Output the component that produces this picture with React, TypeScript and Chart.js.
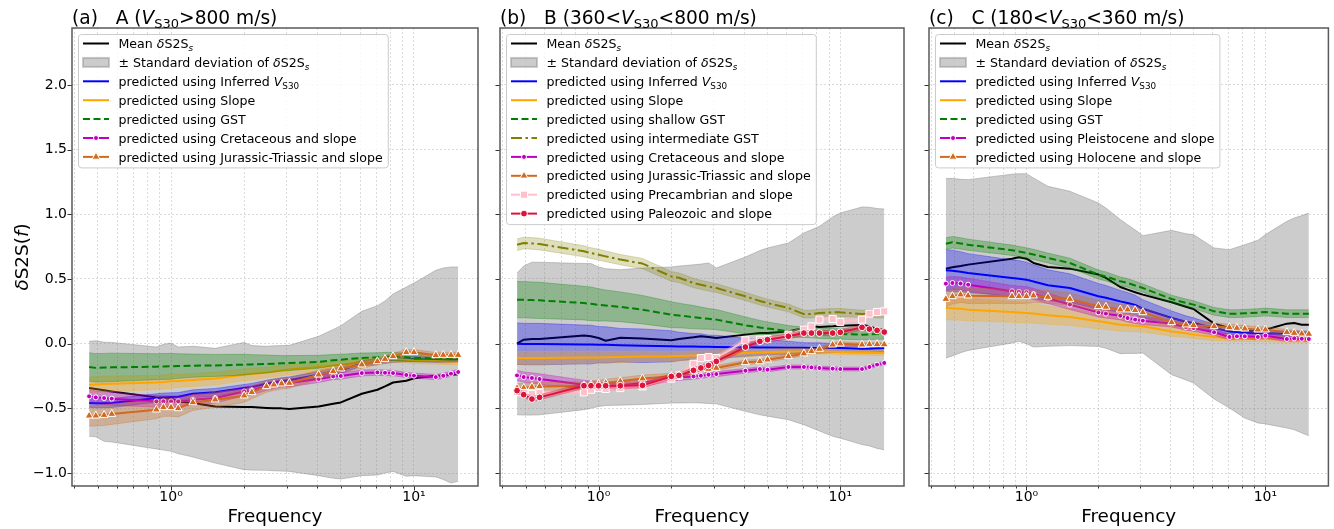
import React, { useEffect, useRef } from "react";
import { Chart, registerables } from "chart.js";

Chart.register(...registerables);

// ---------------- axes ----------------
const FREQ = [0.46, 0.49, 0.53, 0.57, 0.87, 0.93, 1.0, 1.07, 1.23, 1.52, 2.0, 2.15, 2.47, 2.65, 2.85, 3.07, 4.05, 4.65, 5.0, 6.1, 7.07, 7.6, 8.2, 9.3, 10.0, 12.3, 13.2, 14.2, 15.2];
const X_TICKS = [0.4, 0.5, 0.6, 0.7, 0.8, 0.9, 1, 2, 3, 4, 5, 6, 7, 8, 9, 10];
const X_LABELS: Record<string, string> = { "1": "10\u2070", "10": "10\u00b9" };
const Y_TICKS = [-1, -0.5, 0, 0.5, 1, 1.5, 2];
const X_RANGE = [0.391, 18.35];
const Y_RANGE = [-1.1, 2.44];

// ---------------- panel A ----------------
const A_MEAN = [-0.343, -0.35, -0.36, -0.369, -0.415, -0.418, -0.425, -0.446, -0.459, -0.485, -0.49, -0.49, -0.497, -0.5, -0.5, -0.505, -0.485, -0.465, -0.454, -0.387, -0.356, -0.33, -0.3, -0.286, -0.268, -0.247, -0.245, -0.24, -0.237];
const A_SD_HI = [0.018, 0.023, 0.012, 0.01, -0.026, -0.005, 0.005, -0.026, -0.02, -0.036, 0.01, -0.015, -0.02, -0.016, -0.015, -0.013, 0.057, 0.11, 0.139, 0.25, 0.294, 0.33, 0.384, 0.438, 0.469, 0.567, 0.585, 0.593, 0.593];
const A_SD_LO = [-0.716, -0.72, -0.755, -0.76, -0.814, -0.822, -0.832, -0.85, -0.876, -0.923, -0.974, -0.977, -0.979, -0.982, -0.985, -0.987, -1.02, -1.04, -1.046, -1.02, -1.015, -1.0, -0.987, -1.025, -1.02, -1.03, -1.05, -1.077, -1.064];
const A_VS30 = [-0.459, -0.46, -0.46, -0.458, -0.42, -0.415, -0.412, -0.41, -0.387, -0.376, -0.343, -0.335, -0.31, -0.3, -0.29, -0.283, -0.24, -0.215, -0.206, -0.15, -0.14, -0.132, -0.124, -0.12, -0.119, -0.125, -0.128, -0.126, -0.124];
const A_VS30_SD = [0.035, 0.035, 0.035, 0.035, 0.033, 0.033, 0.032, 0.032, 0.03, 0.03, 0.028, 0.028, 0.027, 0.027, 0.026, 0.026, 0.025, 0.024, 0.024, 0.022, 0.022, 0.021, 0.021, 0.02, 0.02, 0.02, 0.02, 0.02, 0.02];
const A_SLOPE = [-0.317, -0.315, -0.312, -0.31, -0.3, -0.297, -0.29, -0.288, -0.28, -0.27, -0.24, -0.235, -0.222, -0.215, -0.208, -0.2, -0.18, -0.168, -0.162, -0.145, -0.135, -0.128, -0.12, -0.125, -0.13, -0.133, -0.135, -0.137, -0.137];
const A_SLOPE_SD = [0.06, 0.06, 0.06, 0.06, 0.055, 0.055, 0.055, 0.05, 0.05, 0.05, 0.045, 0.045, 0.04, 0.04, 0.04, 0.04, 0.035, 0.03, 0.03, 0.03, 0.03, 0.025, 0.025, 0.025, 0.025, 0.025, 0.025, 0.025, 0.025];
const A_GST = [-0.18, -0.187, -0.185, -0.183, -0.178, -0.176, -0.175, -0.173, -0.17, -0.168, -0.162, -0.16, -0.157, -0.155, -0.152, -0.15, -0.14, -0.128, -0.124, -0.11, -0.105, -0.1, -0.098, -0.105, -0.11, -0.11, -0.11, -0.11, -0.11];
const A_GST_SD = [0.11, 0.11, 0.11, 0.11, 0.1, 0.1, 0.1, 0.095, 0.09, 0.085, 0.08, 0.075, 0.07, 0.065, 0.06, 0.058, 0.05, 0.045, 0.042, 0.038, 0.035, 0.033, 0.032, 0.03, 0.03, 0.028, 0.028, 0.028, 0.028];
const A_CRET = [-0.407, -0.415, -0.42, -0.425, -0.446, -0.446, -0.446, -0.446, -0.433, -0.42, -0.369, -0.36, -0.33, -0.317, -0.305, -0.304, -0.273, -0.253, -0.25, -0.227, -0.222, -0.225, -0.227, -0.242, -0.247, -0.258, -0.248, -0.232, -0.219];
const A_CRET_SD = [0.05, 0.05, 0.05, 0.05, 0.045, 0.045, 0.043, 0.042, 0.04, 0.038, 0.035, 0.034, 0.032, 0.031, 0.03, 0.03, 0.027, 0.025, 0.025, 0.023, 0.022, 0.022, 0.021, 0.02, 0.02, 0.02, 0.02, 0.02, 0.02];
const A_JUR = [-0.557, -0.557, -0.552, -0.544, -0.51, -0.492, -0.492, -0.5, -0.454, -0.433, -0.402, -0.376, -0.33, -0.317, -0.309, -0.304, -0.24, -0.214, -0.193, -0.162, -0.137, -0.119, -0.098, -0.067, -0.067, -0.09, -0.088, -0.088, -0.088];
const A_JUR_SD = [0.08, 0.08, 0.08, 0.08, 0.07, 0.07, 0.068, 0.066, 0.062, 0.058, 0.052, 0.05, 0.046, 0.044, 0.042, 0.04, 0.035, 0.032, 0.03, 0.028, 0.026, 0.025, 0.024, 0.023, 0.022, 0.022, 0.022, 0.022, 0.022];

// ---------------- panel B ----------------
const B_MEAN = [0, 0.031, 0.036, 0.036, 0.064, 0.057, 0.044, 0.023, 0.046, 0.041, 0.026, 0.036, 0.049, 0.057, 0.052, 0.044, 0.07, 0.082, 0.082, 0.095, 0.121, 0.134, 0.129, 0.134, 0.139, 0.144, 0.134, 0.113, 0.103];
const B_SD_HI = [0.546, 0.6, 0.63, 0.629, 0.62, 0.619, 0.593, 0.58, 0.572, 0.585, 0.593, 0.6, 0.61, 0.615, 0.624, 0.585, 0.67, 0.72, 0.74, 0.778, 0.856, 0.88, 0.907, 0.98, 1.01, 1.057, 1.055, 1.045, 1.041];
const B_SD_LO = [-0.549, -0.552, -0.552, -0.55, -0.51, -0.5, -0.485, -0.478, -0.475, -0.47, -0.459, -0.458, -0.457, -0.458, -0.462, -0.465, -0.523, -0.55, -0.56, -0.588, -0.626, -0.65, -0.675, -0.716, -0.73, -0.78, -0.79, -0.81, -0.82];
const B_VS30 = [0, -0.002, -0.003, -0.003, -0.006, -0.007, -0.008, -0.009, -0.012, -0.016, -0.02, -0.021, -0.022, -0.023, -0.024, -0.025, -0.028, -0.029, -0.03, -0.031, -0.032, -0.033, -0.033, -0.033, -0.034, -0.041, -0.04, -0.036, -0.033];
const B_VS30_SD = [0.16, 0.16, 0.16, 0.16, 0.15, 0.15, 0.14, 0.14, 0.13, 0.13, 0.12, 0.11, 0.1, 0.1, 0.09, 0.09, 0.07, 0.06, 0.06, 0.05, 0.04, 0.04, 0.04, 0.035, 0.035, 0.03, 0.03, 0.03, 0.03];
const B_SLOPE = [-0.111, -0.111, -0.11, -0.11, -0.107, -0.106, -0.106, -0.105, -0.103, -0.1, -0.098, -0.096, -0.092, -0.09, -0.088, -0.086, -0.072, -0.068, -0.066, -0.06, -0.06, -0.06, -0.06, -0.062, -0.064, -0.068, -0.07, -0.072, -0.072];
const B_SLOPE_SD = [0.05, 0.05, 0.05, 0.05, 0.048, 0.047, 0.046, 0.045, 0.043, 0.04, 0.037, 0.036, 0.034, 0.033, 0.032, 0.031, 0.028, 0.026, 0.025, 0.023, 0.022, 0.021, 0.02, 0.02, 0.02, 0.02, 0.02, 0.02, 0.02];
const B_SGST = [0.34, 0.34, 0.337, 0.335, 0.314, 0.308, 0.3, 0.295, 0.285, 0.263, 0.224, 0.218, 0.205, 0.198, 0.192, 0.186, 0.142, 0.125, 0.118, 0.095, 0.088, 0.085, 0.08, 0.077, 0.075, 0.07, 0.072, 0.074, 0.075];
const B_SGST_SD = [0.14, 0.14, 0.14, 0.14, 0.13, 0.13, 0.125, 0.12, 0.115, 0.11, 0.1, 0.095, 0.09, 0.085, 0.08, 0.078, 0.065, 0.055, 0.05, 0.045, 0.04, 0.04, 0.04, 0.04, 0.04, 0.04, 0.04, 0.04, 0.04];
const B_IGST = [0.765, 0.778, 0.775, 0.77, 0.714, 0.7, 0.688, 0.675, 0.65, 0.619, 0.52, 0.51, 0.469, 0.455, 0.442, 0.43, 0.366, 0.33, 0.314, 0.276, 0.229, 0.229, 0.237, 0.242, 0.242, 0.229, 0.235, 0.228, 0.229];
const B_IGST_SD = [0.045, 0.045, 0.045, 0.045, 0.043, 0.042, 0.042, 0.041, 0.04, 0.04, 0.038, 0.037, 0.036, 0.035, 0.035, 0.034, 0.032, 0.031, 0.03, 0.03, 0.03, 0.03, 0.03, 0.03, 0.03, 0.03, 0.03, 0.03, 0.03];
const B_CRET = [-0.245, -0.258, -0.265, -0.273, -0.317, -0.323, -0.33, -0.33, -0.325, -0.304, -0.265, -0.26, -0.253, -0.248, -0.24, -0.235, -0.209, -0.196, -0.201, -0.18, -0.18, -0.183, -0.188, -0.193, -0.196, -0.196, -0.18, -0.162, -0.149];
const B_CRET_SD = [0.04, 0.04, 0.04, 0.04, 0.035, 0.034, 0.033, 0.032, 0.03, 0.028, 0.025, 0.024, 0.022, 0.021, 0.02, 0.02, 0.018, 0.017, 0.017, 0.016, 0.016, 0.015, 0.015, 0.015, 0.015, 0.015, 0.015, 0.015, 0.015];
const B_JUR = [-0.343, -0.343, -0.335, -0.33, -0.325, -0.317, -0.312, -0.304, -0.291, -0.27, -0.253, -0.245, -0.214, -0.201, -0.196, -0.188, -0.144, -0.137, -0.124, -0.098, -0.077, -0.059, -0.041, -0.008, 0, -0.008, -0.005, -0.005, -0.006];
const B_JUR_SD = [0.035, 0.035, 0.035, 0.034, 0.032, 0.031, 0.03, 0.03, 0.028, 0.027, 0.025, 0.024, 0.022, 0.021, 0.02, 0.02, 0.018, 0.017, 0.017, 0.016, 0.016, 0.015, 0.015, 0.015, 0.015, 0.015, 0.015, 0.015, 0.015];
const B_PREC = [-0.374, -0.381, -0.389, -0.381, -0.376, -0.356, -0.343, -0.35, -0.343, -0.33, -0.27, -0.247, -0.155, -0.111, -0.103, -0.111, 0.026, 0.031, 0.036, 0.07, 0.108, 0.134, 0.186, 0.191, 0.168, 0.186, 0.232, 0.245, 0.25];
const B_PREC_SD = [0.02, 0.02, 0.02, 0.02, 0.02, 0.02, 0.02, 0.02, 0.02, 0.02, 0.02, 0.02, 0.02, 0.02, 0.02, 0.02, 0.02, 0.02, 0.02, 0.02, 0.02, 0.02, 0.02, 0.02, 0.02, 0.02, 0.02, 0.02, 0.02];
const B_PALEO = [-0.363, -0.394, -0.428, -0.415, -0.325, -0.325, -0.325, -0.325, -0.325, -0.322, -0.253, -0.245, -0.206, -0.188, -0.168, -0.137, -0.026, 0.018, 0.031, 0.057, 0.082, 0.082, 0.082, 0.082, 0.088, 0.126, 0.113, 0.103, 0.09];
const B_PALEO_SD = [0.02, 0.02, 0.02, 0.02, 0.02, 0.02, 0.02, 0.02, 0.02, 0.02, 0.02, 0.02, 0.02, 0.02, 0.02, 0.02, 0.02, 0.02, 0.02, 0.02, 0.02, 0.02, 0.02, 0.02, 0.02, 0.02, 0.02, 0.02, 0.02];

// ---------------- panel C ----------------
const C_MEAN = [0.58, 0.59, 0.6, 0.611, 0.657, 0.668, 0.657, 0.624, 0.593, 0.58, 0.534, 0.508, 0.438, 0.418, 0.398, 0.379, 0.32, 0.285, 0.268, 0.155, 0.121, 0.11, 0.1, 0.1, 0.108, 0.155, 0.16, 0.147, 0.147];
const C_SD_HI = [1.276, 1.278, 1.27, 1.268, 1.31, 1.314, 1.314, 1.281, 1.216, 1.178, 1.088, 1.049, 0.96, 0.92, 0.88, 0.835, 0.876, 0.85, 0.843, 0.74, 0.727, 0.745, 0.765, 0.799, 0.843, 0.946, 0.972, 0.99, 1.01];
const C_SD_LO = [-0.111, -0.095, -0.07, -0.052, 0.005, 0.018, 0.0, -0.026, -0.02, -0.015, -0.021, -0.035, -0.077, -0.075, -0.075, -0.072, -0.24, -0.28, -0.304, -0.428, -0.497, -0.535, -0.575, -0.613, -0.62, -0.652, -0.665, -0.69, -0.711];
const C_VS30 = [0.567, 0.563, 0.556, 0.546, 0.508, 0.502, 0.495, 0.48, 0.451, 0.43, 0.366, 0.355, 0.327, 0.315, 0.3, 0.27, 0.198, 0.17, 0.16, 0.121, 0.095, 0.09, 0.085, 0.082, 0.08, 0.077, 0.077, 0.077, 0.077];
const C_VS30_SD = [0.16, 0.16, 0.155, 0.15, 0.14, 0.14, 0.135, 0.13, 0.12, 0.11, 0.1, 0.095, 0.085, 0.08, 0.075, 0.07, 0.055, 0.045, 0.04, 0.03, 0.025, 0.025, 0.025, 0.025, 0.025, 0.02, 0.02, 0.02, 0.02];
const C_SLOPE = [0.276, 0.273, 0.27, 0.263, 0.245, 0.241, 0.237, 0.233, 0.22, 0.206, 0.173, 0.165, 0.147, 0.142, 0.138, 0.134, 0.095, 0.08, 0.07, 0.052, 0.044, 0.042, 0.04, 0.039, 0.038, 0.031, 0.031, 0.031, 0.031];
const C_SLOPE_SD = [0.09, 0.09, 0.088, 0.086, 0.08, 0.079, 0.077, 0.075, 0.07, 0.065, 0.058, 0.055, 0.05, 0.048, 0.046, 0.044, 0.037, 0.033, 0.031, 0.027, 0.025, 0.024, 0.023, 0.022, 0.022, 0.02, 0.02, 0.02, 0.02];
const C_GST = [0.773, 0.784, 0.775, 0.765, 0.722, 0.712, 0.701, 0.69, 0.662, 0.624, 0.534, 0.52, 0.482, 0.47, 0.45, 0.43, 0.345, 0.315, 0.302, 0.25, 0.232, 0.232, 0.235, 0.24, 0.245, 0.232, 0.232, 0.232, 0.232];
const C_GST_SD = [0.045, 0.045, 0.044, 0.043, 0.04, 0.04, 0.04, 0.039, 0.038, 0.037, 0.035, 0.035, 0.034, 0.033, 0.033, 0.032, 0.03, 0.03, 0.03, 0.03, 0.03, 0.03, 0.03, 0.03, 0.03, 0.03, 0.03, 0.03, 0.03];
const C_PLEIS = [0.464, 0.469, 0.465, 0.456, 0.405, 0.4, 0.397, 0.384, 0.35, 0.302, 0.242, 0.232, 0.216, 0.198, 0.186, 0.178, 0.155, 0.129, 0.121, 0.088, 0.052, 0.057, 0.057, 0.052, 0.062, 0.036, 0.041, 0.038, 0.036];
const C_PLEIS_SD = [0.05, 0.05, 0.05, 0.05, 0.045, 0.045, 0.044, 0.043, 0.04, 0.038, 0.035, 0.034, 0.032, 0.031, 0.03, 0.03, 0.027, 0.025, 0.025, 0.023, 0.022, 0.022, 0.021, 0.02, 0.02, 0.02, 0.02, 0.02, 0.02];
const C_HOLO = [0.345, 0.366, 0.379, 0.371, 0.366, 0.366, 0.366, 0.371, 0.361, 0.345, 0.289, 0.284, 0.263, 0.263, 0.258, 0.242, 0.165, 0.147, 0.142, 0.134, 0.126, 0.121, 0.116, 0.108, 0.108, 0.088, 0.082, 0.077, 0.075];
const C_HOLO_SD = [0.06, 0.06, 0.06, 0.06, 0.055, 0.055, 0.053, 0.052, 0.05, 0.047, 0.043, 0.042, 0.04, 0.038, 0.037, 0.036, 0.032, 0.03, 0.029, 0.027, 0.025, 0.025, 0.024, 0.023, 0.022, 0.022, 0.022, 0.022, 0.022];

// ---------------- styles ----------------
type Seg = { t: string; it?: boolean; sub?: boolean };
type Marker = { style: "circle" | "triangle" | "rect"; r: number };
type Series = { label: Seg[]; y: number[]; sd: number[]; color: string; band: string; dash?: number[]; marker?: Marker };
type PanelDef = {
  id: string; left: number; width: number; plotLeft: number; plotRight: number;
  title: Seg[]; showY: boolean; mean: number[]; sdHi: number[]; sdLo: number[]; series: Series[];
};

const FAMILY = '"DejaVu Sans", sans-serif';
const PLOT_TOP = 28;
const PLOT_BOTTOM = 486;
const H = 529;
const TITLE_SIZE = 18.6;
const LABEL_SIZE = 18.4;
const LEGEND_SIZE = 12.6;

const BLUE = "#0000ff", ORANGE = "#ffa500", GREEN = "#008000", OLIVE = "#808000";
const MAG = "#bf00bf", CHOC = "#d2691e", PINK = "#ffc0cb", CRIMSON = "#dc143c";
const GRAY_FILL = "rgba(128,128,128,0.4)";
const DASH = [7, 3.5];
const DASHDOT = [11, 3.5, 2.5, 3.5];

const VS30: Seg[] = [{ t: "V", it: true }, { t: "S30", sub: true }];
const pred = (s: string): Seg[] => [{ t: "predicted using " + s }];

const PANELS: PanelDef[] = [
  {
    id: "a", left: 0, width: 490, plotLeft: 72, plotRight: 478, showY: true,
    title: [{ t: "(a)   A (" }, ...VS30, { t: ">800 m/s)" }],
    mean: A_MEAN, sdHi: A_SD_HI, sdLo: A_SD_LO,
    series: [
      { label: [...pred("Inferred "), ...VS30], y: A_VS30, sd: A_VS30_SD, color: BLUE, band: "rgba(0,0,255,0.3)" },
      { label: pred("Slope"), y: A_SLOPE, sd: A_SLOPE_SD, color: ORANGE, band: "rgba(255,165,0,0.3)" },
      { label: pred("GST"), y: A_GST, sd: A_GST_SD, color: GREEN, band: "rgba(0,128,0,0.3)", dash: DASH },
      { label: pred("Cretaceous and slope"), y: A_CRET, sd: A_CRET_SD, color: MAG, band: "rgba(191,0,191,0.3)", marker: { style: "circle", r: 2.5 } },
      { label: pred("Jurassic-Triassic and slope"), y: A_JUR, sd: A_JUR_SD, color: CHOC, band: "rgba(210,105,30,0.3)", marker: { style: "triangle", r: 4.6 } },
    ],
  },
  {
    id: "b", left: 490, width: 420, plotLeft: 500, plotRight: 906, showY: false,
    title: [{ t: "(b)   B (360<" }, ...VS30, { t: "<800 m/s)" }],
    mean: B_MEAN, sdHi: B_SD_HI, sdLo: B_SD_LO,
    series: [
      { label: [...pred("Inferred "), ...VS30], y: B_VS30, sd: B_VS30_SD, color: BLUE, band: "rgba(0,0,255,0.3)" },
      { label: pred("Slope"), y: B_SLOPE, sd: B_SLOPE_SD, color: ORANGE, band: "rgba(255,165,0,0.3)" },
      { label: pred("shallow GST"), y: B_SGST, sd: B_SGST_SD, color: GREEN, band: "rgba(0,128,0,0.3)", dash: DASH },
      { label: pred("intermediate GST"), y: B_IGST, sd: B_IGST_SD, color: OLIVE, band: "rgba(128,128,0,0.25)", dash: DASHDOT },
      { label: pred("Cretaceous and slope"), y: B_CRET, sd: B_CRET_SD, color: MAG, band: "rgba(191,0,191,0.3)", marker: { style: "circle", r: 2.5 } },
      { label: pred("Jurassic-Triassic and slope"), y: B_JUR, sd: B_JUR_SD, color: CHOC, band: "rgba(210,105,30,0.3)", marker: { style: "triangle", r: 4.6 } },
      { label: pred("Precambrian and slope"), y: B_PREC, sd: B_PREC_SD, color: PINK, band: "rgba(255,192,203,0.3)", marker: { style: "rect", r: 5 } },
      { label: pred("Paleozoic and slope"), y: B_PALEO, sd: B_PALEO_SD, color: CRIMSON, band: "rgba(220,20,60,0.3)", marker: { style: "circle", r: 3.4 } },
    ],
  },
  {
    id: "c", left: 918, width: 416, plotLeft: 929, plotRight: 1333, showY: false,
    title: [{ t: "(c)   C (180<" }, ...VS30, { t: "<360 m/s)" }],
    mean: C_MEAN, sdHi: C_SD_HI, sdLo: C_SD_LO,
    series: [
      { label: [...pred("Inferred "), ...VS30], y: C_VS30, sd: C_VS30_SD, color: BLUE, band: "rgba(0,0,255,0.3)" },
      { label: pred("Slope"), y: C_SLOPE, sd: C_SLOPE_SD, color: ORANGE, band: "rgba(255,165,0,0.3)" },
      { label: pred("GST"), y: C_GST, sd: C_GST_SD, color: GREEN, band: "rgba(0,128,0,0.3)", dash: DASH },
      { label: pred("Pleistocene and slope"), y: C_PLEIS, sd: C_PLEIS_SD, color: MAG, band: "rgba(191,0,191,0.3)", marker: { style: "circle", r: 2.5 } },
      { label: pred("Holocene and slope"), y: C_HOLO, sd: C_HOLO_SD, color: CHOC, band: "rgba(210,105,30,0.3)", marker: { style: "triangle", r: 4.6 } },
    ],
  },
];

// ---------------- text helpers ----------------
function segFont(s: Seg, size: number) {
  return `${s.it ? "italic " : ""}${s.sub ? size * 0.7 : size}px ${FAMILY}`;
}
function richWidth(ctx: CanvasRenderingContext2D, segs: Seg[], size: number) {
  let w = 0;
  for (const s of segs) { ctx.font = segFont(s, size); w += ctx.measureText(s.t).width; }
  return w;
}
function drawRich(ctx: CanvasRenderingContext2D, segs: Seg[], x: number, y: number, size: number) {
  ctx.fillStyle = "#000";
  ctx.textAlign = "left";
  ctx.textBaseline = "alphabetic";
  let cx = x;
  for (const s of segs) {
    ctx.font = segFont(s, size);
    ctx.fillText(s.t, cx, y + (s.sub ? size * 0.22 : 0));
    cx += ctx.measureText(s.t).width;
  }
}
function drawMarker(ctx: CanvasRenderingContext2D, m: Marker, x: number, y: number, color: string) {
  ctx.beginPath();
  if (m.style === "circle") ctx.arc(x, y, m.r, 0, Math.PI * 2);
  else if (m.style === "rect") { const s = m.r * Math.SQRT1_2; ctx.rect(x - s, y - s, 2 * s, 2 * s); }
  else {
    let a = 0;
    ctx.moveTo(x + Math.sin(a) * m.r, y - Math.cos(a) * m.r);
    for (let k = 0; k < 2; k++) { a += (2 * Math.PI) / 3; ctx.lineTo(x + Math.sin(a) * m.r, y - Math.cos(a) * m.r); }
    ctx.closePath();
  }
  ctx.fillStyle = color; ctx.fill();
  ctx.strokeStyle = "#fff"; ctx.lineWidth = 1; ctx.stroke();
}

// ---------------- chart building ----------------
const pts = (arr: number[]) => FREQ.map((f, i) => ({ x: f, y: arr[i] }));

function buildDatasets(p: PanelDef) {
  const ds: any[] = [];
  let order = 1000;
  const band = (hi: number[], lo: number[], fill: string) => {
    ds.push({ data: pts(hi), borderColor: fill, borderWidth: 1, backgroundColor: "transparent", pointRadius: 0, fill: false, order: order-- });
    ds.push({ data: pts(lo), borderColor: fill, borderWidth: 1, backgroundColor: fill, pointRadius: 0, fill: "-1", order: order-- });
  };
  band(p.sdHi, p.sdLo, GRAY_FILL);
  ds.push({ data: pts(p.mean), borderColor: "#000", borderWidth: 2, pointRadius: 0, fill: false, order: order-- });
  for (const s of p.series) {
    band(s.y.map((v, i) => v + s.sd[i]), s.y.map((v, i) => v - s.sd[i]), s.band);
    ds.push({
      data: pts(s.y), borderColor: s.color, borderWidth: 2, borderDash: s.dash || [], fill: false,
      pointRadius: s.marker ? s.marker.r : 0, pointStyle: s.marker ? s.marker.style : "circle",
      pointBackgroundColor: s.color, pointBorderColor: "#fff", pointBorderWidth: 1, order: order--,
    });
  }
  return ds;
}

function decor(p: PanelDef) {
  return {
    id: "decor" + p.id,
    afterDatasetsDraw(chart: any) {
      const { ctx, chartArea: a, scales } = chart;
      ctx.save();
      ctx.strokeStyle = "#333";
      ctx.lineWidth = 1;
      for (const t of scales.x.ticks) {
        const px = Math.round(scales.x.getPixelForValue(t.value)) + 0.5;
        const major = t.value === 1 || t.value === 10;
        ctx.beginPath(); ctx.moveTo(px, a.bottom); ctx.lineTo(px, a.bottom + (major ? 4.5 : 2.5)); ctx.stroke();
      }
      for (const t of scales.y.ticks) {
        const py = Math.round(scales.y.getPixelForValue(t.value)) + 0.5;
        ctx.beginPath(); ctx.moveTo(a.left, py); ctx.lineTo(a.left - 4.5, py); ctx.stroke();
      }
      ctx.strokeStyle = "#5a5a5a";
      ctx.lineWidth = 1.5;
      ctx.strokeRect(a.left, a.top, a.right - a.left, a.bottom - a.top);
      ctx.restore();
    },
    afterDraw(chart: any) {
      const { ctx, chartArea: a } = chart;
      ctx.save();
      drawRich(ctx, p.title, a.left, 23.5, TITLE_SIZE);
      const xt: Seg[] = [{ t: "Frequency" }];
      drawRich(ctx, xt, (a.left + a.right) / 2 - richWidth(ctx, xt, LABEL_SIZE) / 2, 521.5, LABEL_SIZE);
      if (p.showY) {
        const yt: Seg[] = [{ t: "\u03b4", it: true }, { t: "S2S(" }, { t: "f", it: true }, { t: ")" }];
        ctx.save();
        ctx.translate(28, (a.top + a.bottom) / 2);
        ctx.rotate(-Math.PI / 2);
        drawRich(ctx, yt, -richWidth(ctx, yt, LABEL_SIZE) / 2, 0, LABEL_SIZE);
        ctx.restore();
      }
      // legend
      const fs = LEGEND_SIZE, rowH = 18.9;
      const bx = a.left + 6, by = a.top + 6;
      const hx = bx + 5, hl = 26, tx = hx + hl + 9.5;
      type Item = { label: Seg[]; patch?: boolean; color?: string; dash?: number[]; marker?: Marker };
      const items: Item[] = [
        { label: [{ t: "Mean " }, { t: "\u03b4", it: true }, { t: "S2S" }, { t: "s", it: true, sub: true }], color: "#000" },
        { label: [{ t: "\u00b1 Standard deviation of " }, { t: "\u03b4", it: true }, { t: "S2S" }, { t: "s", it: true, sub: true }], patch: true },
        ...p.series.map((s) => ({ label: s.label, color: s.color, dash: s.dash, marker: s.marker })),
      ];
      let maxW = 0;
      for (const it of items) maxW = Math.max(maxW, richWidth(ctx, it.label, fs));
      const bw = tx + maxW + 5 - bx;
      const r0 = by + 9.5;
      const bh = 9.5 + (items.length - 1) * rowH + 10.5;
      ctx.beginPath();
      ctx.roundRect(bx + 0.5, by + 0.5, bw, bh, 3);
      ctx.fillStyle = "rgba(255,255,255,0.8)";
      ctx.fill();
      ctx.strokeStyle = "#cccccc";
      ctx.lineWidth = 1;
      ctx.stroke();
      items.forEach((it, i) => {
        const y = r0 + i * rowH;
        if (it.patch) {
          ctx.fillStyle = GRAY_FILL;
          ctx.fillRect(hx, y - 4.5, hl, 9);
          ctx.strokeStyle = GRAY_FILL;
          ctx.strokeRect(hx, y - 4.5, hl, 9);
        } else {
          ctx.strokeStyle = it.color!;
          ctx.lineWidth = 2;
          ctx.setLineDash(it.dash || []);
          ctx.beginPath(); ctx.moveTo(hx, y); ctx.lineTo(hx + hl, y); ctx.stroke();
          ctx.setLineDash([]);
          if (it.marker) drawMarker(ctx, it.marker, hx + hl / 2, y, it.color!);
        }
        drawRich(ctx, it.label, tx, y + 4.6, fs);
      });
      ctx.restore();
    },
  };
}

function buildConfig(p: PanelDef): any {
  const grid = { color: "rgba(176,176,176,0.45)", lineWidth: 1, drawTicks: false };
  const border = { display: false, dash: [2, 2] };
  const tickFont = { family: FAMILY, size: 14 };
  return {
    type: "line",
    data: { datasets: buildDatasets(p) },
    options: {
      animation: false,
      responsive: false,
      events: [],
      layout: { padding: { left: 0, right: p.left + p.width - p.plotRight, top: PLOT_TOP, bottom: 0 } },
      plugins: { legend: { display: false }, tooltip: { enabled: false }, title: { display: false } },
      elements: { line: { tension: 0, borderJoinStyle: "round" } },
      scales: {
        x: {
          type: "logarithmic", min: X_RANGE[0], max: X_RANGE[1],
          afterBuildTicks: (s: any) => { s.ticks = X_TICKS.map((v) => ({ value: v })); },
          afterFit: (s: any) => { s.height = H - PLOT_BOTTOM; },
          grid, border,
          ticks: { autoSkip: false, maxRotation: 0, minRotation: 0, padding: 3, font: tickFont, color: "#000",
            callback: (v: number) => X_LABELS[String(v)] ?? "" },
        },
        y: {
          type: "linear", min: Y_RANGE[0], max: Y_RANGE[1],
          afterBuildTicks: (s: any) => { s.ticks = Y_TICKS.map((v) => ({ value: v })); },
          afterFit: (s: any) => { s.width = p.plotLeft - p.left; },
          grid, border,
          ticks: { display: p.showY, padding: 5, font: tickFont, color: "#000",
            callback: (v: number) => v.toFixed(1).replace("-", "\u2212") },
        },
      },
    },
    plugins: [decor(p)],
  };
}

function Panel({ def }: { def: PanelDef }) {
  const ref = useRef<HTMLCanvasElement>(null);
  useEffect(() => {
    const chart = new Chart(ref.current as HTMLCanvasElement, buildConfig(def));
    return () => chart.destroy();
  }, [def]);
  return (
    <canvas ref={ref} width={def.width} height={H}
      style={{ position: "absolute", left: def.left, top: 0, width: def.width, height: H }} />
  );
}

export default function App() {
  useEffect(() => { document.body.style.margin = "0"; }, []);
  return (
    <div style={{ position: "relative", width: 1334, height: H, background: "#fff" }}>
      {PANELS.map((p) => <Panel key={p.id} def={p} />)}
    </div>
  );
}
